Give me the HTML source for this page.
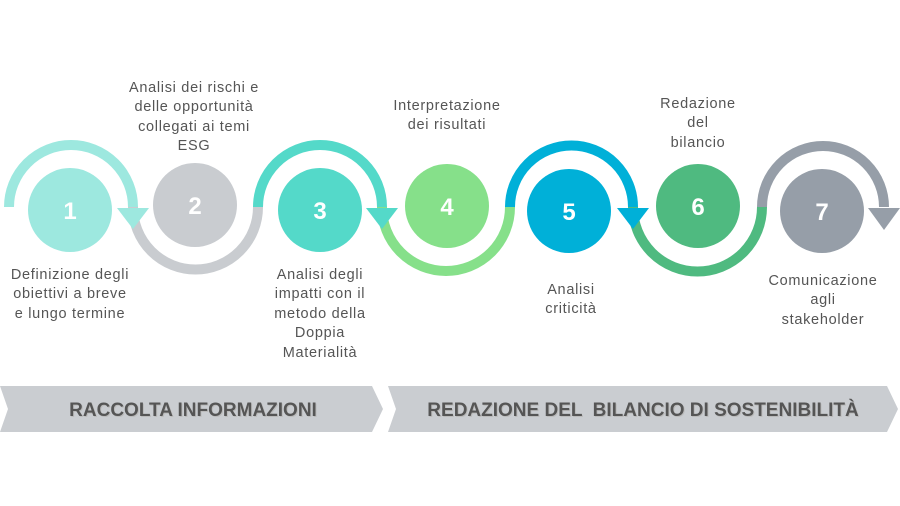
<!DOCTYPE html>
<html><head><meta charset="utf-8"><style>
html,body{margin:0;padding:0;background:#fff;}
svg{display:block;}
.t{font-family:"Liberation Sans","DejaVu Sans",sans-serif;font-size:14.5px;fill:#555;text-anchor:middle;letter-spacing:0.7px;}
.n{font-family:"Liberation Sans",sans-serif;font-size:24px;font-weight:bold;fill:#fff;text-anchor:middle;}
.b{font-family:"Liberation Sans Narrow","Liberation Sans",sans-serif;font-size:19px;font-weight:bold;fill:#555;text-anchor:middle;}
</style></head><body>
<svg width="900" height="506" viewBox="0 0 900 506" xmlns="http://www.w3.org/2000/svg">
<g fill="none" stroke-width="10">
<path d="M133,207 A62.5,62.5 0 0 0 258,207" stroke="#c9ccd0"/>
<path d="M382,207 A64,64 0 0 0 510,207" stroke="#86e08a"/>
<path d="M633,207 A64.5,64.5 0 0 0 762,207" stroke="#4fba80"/>
<path d="M9,207 A62,62 0 0 1 133,207" stroke="#9de8df"/>
<path d="M258,207 A62,62 0 0 1 382,207" stroke="#54d9c9"/>
<path d="M510,207 A61.5,61.5 0 0 1 633,207" stroke="#00b0d8"/>
<path d="M762,207 A61,61 0 0 1 884,207" stroke="#969ea8"/>
</g>
<polygon points="117,208 149,208 133,229" fill="#9de8df"/>
<polygon points="366,208 398,208 382,229" fill="#54d9c9"/>
<polygon points="617,208 649,208 633,229" fill="#00b0d8"/>
<polygon points="868,208 900,208 884,230" fill="#969ea8"/>
<circle cx="70" cy="210" r="42" fill="#9de8df"/>
<circle cx="195" cy="205" r="42" fill="#c9ccd0"/>
<circle cx="320" cy="210" r="42" fill="#54d9c9"/>
<circle cx="447" cy="206" r="42" fill="#86e08a"/>
<circle cx="569" cy="211" r="42" fill="#00b0d8"/>
<circle cx="698" cy="206" r="42" fill="#4fba80"/>
<circle cx="822" cy="211" r="42" fill="#969ea8"/>
<text class="n" x="70" y="219">1</text>
<text class="n" x="195" y="214">2</text>
<text class="n" x="320" y="219">3</text>
<text class="n" x="447" y="215">4</text>
<text class="n" x="569" y="220">5</text>
<text class="n" x="698" y="215">6</text>
<text class="n" x="822" y="220">7</text>
<text class="t" x="194" y="92">Analisi dei rischi e</text>
<text class="t" x="194" y="111">delle opportunità</text>
<text class="t" x="194" y="131">collegati ai temi</text>
<text class="t" x="194" y="150">ESG</text>
<text class="t" x="447" y="110">Interpretazione</text>
<text class="t" x="447" y="129">dei risultati</text>
<text class="t" x="698" y="108">Redazione</text>
<text class="t" x="698" y="127">del</text>
<text class="t" x="698" y="147">bilancio</text>
<text class="t" x="70" y="279">Definizione degli</text>
<text class="t" x="70" y="298">obiettivi a breve</text>
<text class="t" x="70" y="318">e lungo termine</text>
<text class="t" x="320" y="279">Analisi degli</text>
<text class="t" x="320" y="298">impatti con il</text>
<text class="t" x="320" y="318">metodo della</text>
<text class="t" x="320" y="337">Doppia</text>
<text class="t" x="320" y="357">Materialità</text>
<text class="t" x="571" y="294">Analisi</text>
<text class="t" x="571" y="313">criticità</text>
<text class="t" x="823" y="285">Comunicazione</text>
<text class="t" x="823" y="304">agli</text>
<text class="t" x="823" y="324">stakeholder</text>
<polygon points="0,386 372,386 383,409 372,432 0,432 8,409" fill="#cacdd1"/>
<polygon points="388,386 887,386 898,409 887,432 388,432 396,409" fill="#cacdd1"/>
<text class="b" x="193" y="416" style="fill:#bbb" dx="1" dy="1">RACCOLTA INFORMAZIONI</text>
<text class="b" x="193" y="416">RACCOLTA INFORMAZIONI</text>
<text class="b" x="643" y="416" style="fill:#bbb" dx="1" dy="1" xml:space="preserve">REDAZIONE DEL  BILANCIO DI SOSTENIBILITÀ</text>
<text class="b" x="643" y="416" xml:space="preserve">REDAZIONE DEL  BILANCIO DI SOSTENIBILITÀ</text>
</svg>
</body></html>
